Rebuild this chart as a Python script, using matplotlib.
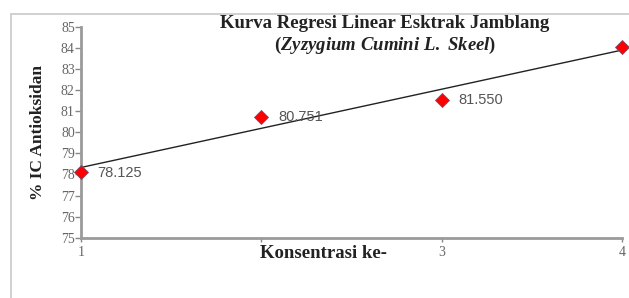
import matplotlib
matplotlib.use("Agg")
import matplotlib.pyplot as plt
from matplotlib.patches import Rectangle
import numpy as np

plt.rcParams["mathtext.fontset"] = "custom"
plt.rcParams["mathtext.it"] = "Liberation Serif:italic:bold"
plt.rcParams["mathtext.rm"] = "Liberation Serif:bold"
plt.rcParams["mathtext.bf"] = "Liberation Serif:bold"

konsentrasi = [1, 2, 3, 4]
ic_values = [78.125, 80.751, 81.550, 84.050]
point_labels = ["78.125", "80.751", "81.550", ""]
x_tick_labels = ["1", "", "3", "4"]
y_ticks = list(range(75, 86))

title_line1 = "Kurva Regresi Linear Esktrak Jamblang"
title_line2 = r"($\mathit{Zyzygium\ Cumini\ L.\ Skeel}$)"
xlabel = "Konsentrasi ke-"
ylabel = "% IC Antioksidan"

fig = plt.figure(figsize=(6.29, 2.98), dpi=100)
fig.patches.append(Rectangle((11/629, -0.1), 1.2, 1 - 14/298 + 0.1,
                             transform=fig.transFigure, fill=False,
                             edgecolor="#c8c8c8", linewidth=1.2))
ax = fig.add_axes([81/629, 1 - 237.7/298, (622 - 81)/629, (237.7 - 27)/298])
ax.set_facecolor("none")

slope, intercept = np.polyfit(konsentrasi, ic_values, 1)
xs = np.array([konsentrasi[0], konsentrasi[-1]])
ax.plot(xs, slope * xs + intercept, color="#222222", linewidth=1.0, clip_on=False, zorder=2)
ax.plot(konsentrasi, ic_values, linestyle="none", marker="D", markersize=7.5,
        markerfacecolor="#ff0000", markeredgecolor="#7a4a6a", markeredgewidth=0.6,
        clip_on=False, zorder=3)
for x, y, lab in zip(konsentrasi, ic_values, point_labels):
    if lab:
        ax.annotate(lab, (x, y), xytext=(12, -0.5), textcoords="offset points",
                    fontsize=10.5, color="#555555", family="Liberation Sans",
                    va="center", ha="left", annotation_clip=False)

ax.set_xlim(1, 4)
ax.set_ylim(75, 85)
ax.set_xticks(konsentrasi)
ax.set_xticklabels(x_tick_labels)
ax.set_yticks(y_ticks)
for lab in ax.get_xticklabels() + ax.get_yticklabels():
    lab.set_family("Liberation Serif")
    lab.set_fontsize(10)
    lab.set_color("#666666")
ax.tick_params(axis="y", direction="out", length=4, width=1, color="#888888", pad=0.5)
ax.tick_params(axis="x", direction="out", length=3, width=1, color="#888888", pad=3)
for s in ["top", "right"]:
    ax.spines[s].set_visible(False)
for s in ["left", "bottom"]:
    ax.spines[s].set_color("#9a9a9a")
    ax.spines[s].set_linewidth(2)

fig.text(385/629, 1 - 24/298, title_line1, ha="center", va="center",
         family="Liberation Serif", fontweight="bold", fontsize=13.5, color="#222222")
fig.text(385/629, 1 - 45/298, title_line2,
         ha="center", va="center", family="Liberation Serif", fontweight="bold",
         fontsize=13.5, color="#222222")
fig.text(324/629, 1 - 254/298, xlabel, ha="center", va="center",
         family="Liberation Serif", fontweight="bold", fontsize=13.5, color="#222222")
fig.text(38/629, 1 - 132/298, ylabel, ha="center", va="center", rotation=90,
         family="Liberation Serif", fontweight="bold", fontsize=12.5, color="#222222")

fig.savefig("out.png", dpi=100)
